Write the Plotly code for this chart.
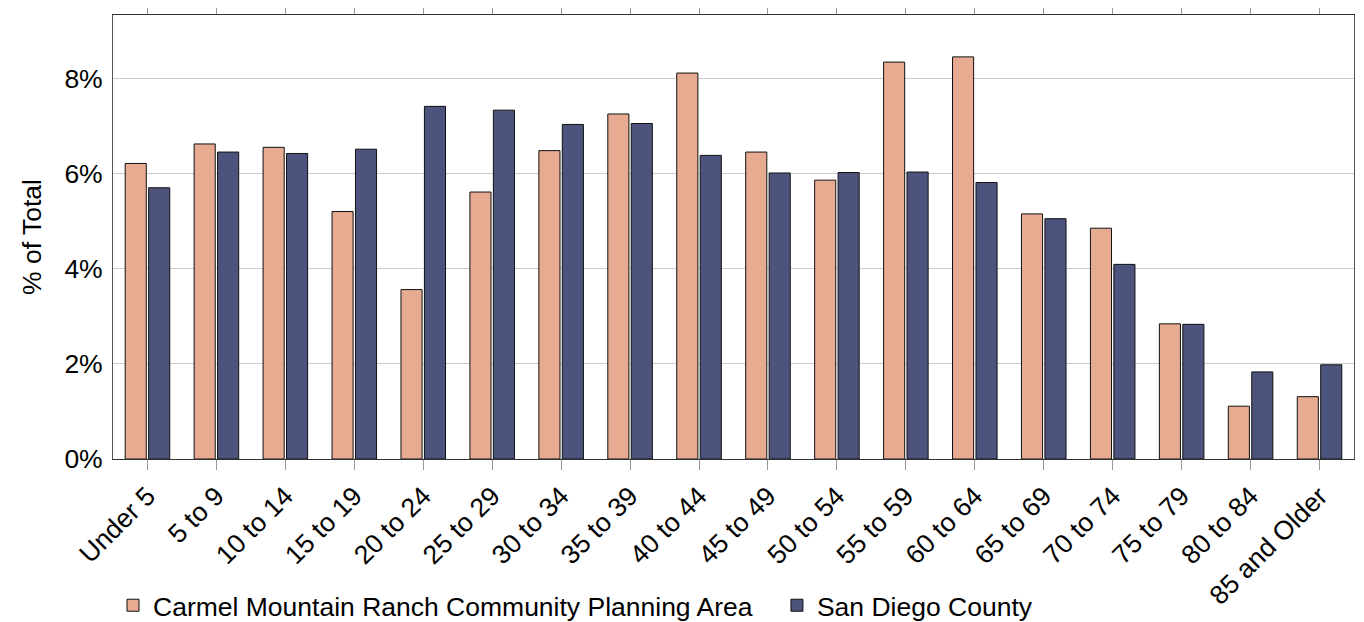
import plotly.graph_objects as go

categories = ["Under 5", "5 to 9", "10 to 14", "15 to 19", "20 to 24", "25 to 29",
              "30 to 34", "35 to 39", "40 to 44", "45 to 49", "50 to 54", "55 to 59",
              "60 to 64", "65 to 69", "70 to 74", "75 to 79", "80 to 84", "85 and Older"]
carmel = [6.21, 6.62, 6.55, 5.20, 3.56, 5.61, 6.48, 7.25, 8.11, 6.45, 5.86, 8.34,
          8.45, 5.15, 4.85, 2.84, 1.11, 1.31]
san_diego = [5.70, 6.45, 6.42, 6.51, 7.41, 7.33, 7.03, 7.05, 6.38, 6.01, 6.02, 6.03,
             5.81, 5.05, 4.09, 2.83, 1.83, 1.98]
series_names = ["Carmel Mountain Ranch Community Planning Area", "San Diego County"]
y_tickvals = [0, 2, 4, 6, 8]
y_ticktext = ["0%", "2%", "4%", "6%", "8%"]

FONT = "Liberation Sans, Arial, sans-serif"
FS = 26.5

fig = go.Figure()
fig.add_trace(go.Bar(x=categories, y=carmel, name=series_names[0], legend="legend",
                     marker=dict(color="#E6AB91", line=dict(color="#111111", width=1))))
fig.add_trace(go.Bar(x=categories, y=san_diego, name=series_names[1], legend="legend2",
                     marker=dict(color="#4C547D", line=dict(color="#111111", width=1))))

# page body has an 8px margin in the browser; compensate
fig.update_layout(
    width=1356, height=614,
    margin=dict(l=105, r=10, t=7, b=163, autoexpand=False),
    plot_bgcolor="white", paper_bgcolor="white",
    barmode="group", bargap=0.32, bargroupgap=0.1,
    font=dict(family=FONT, size=FS, color="black"),
    showlegend=True,
    legend=dict(orientation="h", x=0, xanchor="left", y=-0.33, yanchor="middle",
                font=dict(size=FS), bgcolor="rgba(0,0,0,0)"),
    legend2=dict(orientation="h", x=0.535, xanchor="left", y=-0.33, yanchor="middle",
                 font=dict(size=FS), bgcolor="rgba(0,0,0,0)"),
)
fig.update_xaxes(
    showline=True, linecolor="#333333", linewidth=1, mirror="ticks",
    ticks="outside", ticklen=10, tickcolor="#999999", tickwidth=1,
    tickangle=-45, tickfont=dict(size=FS),
    showgrid=False, automargin=False,
)
fig.update_yaxes(
    range=[0, 9.33], tickvals=y_tickvals, ticktext=y_ticktext,
    showline=True, linecolor="#555555", linewidth=1, mirror=True,
    ticks="", showgrid=True, gridcolor="#cccccc", gridwidth=1,
    tickfont=dict(size=FS), zeroline=False, ticklabelstandoff=4,
    title=dict(text="% of Total", font=dict(size=FS)),
    automargin=False,
)

fig.write_html("out.html")
